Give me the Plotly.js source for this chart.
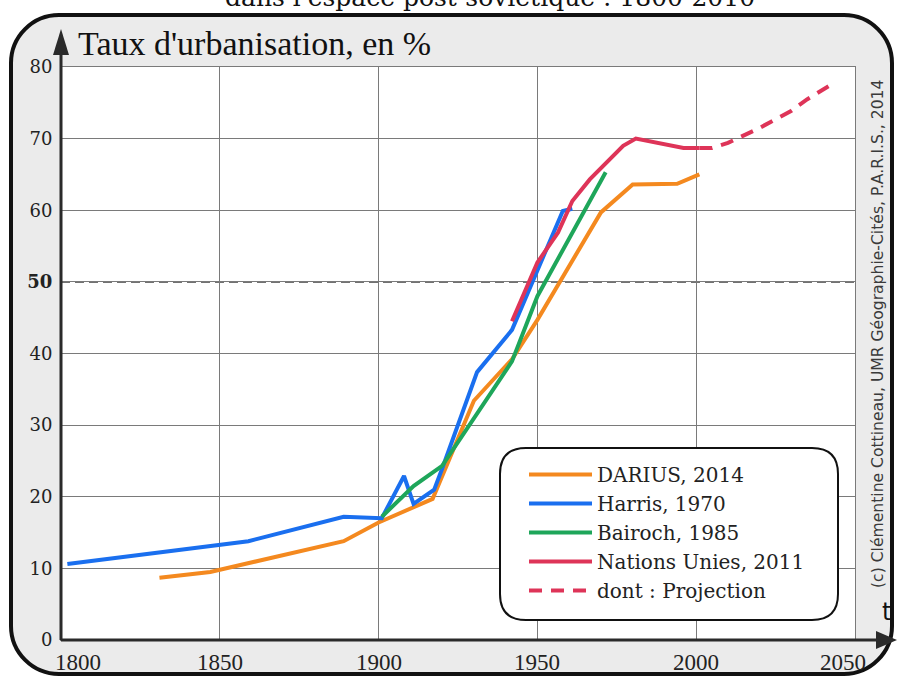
<!DOCTYPE html>
<html><head><meta charset="utf-8">
<script src="https://cdn.plot.ly/plotly-3.0.1.min.js"></script>
<style>
html,body{margin:0;padding:0;background:#fff;width:901px;height:677px;overflow:hidden;}
#frame{position:absolute;left:9px;top:13px;width:885px;height:663px;box-sizing:border-box;border:4px solid #111;border-radius:50px;background:#ebebeb;}
#chart{position:absolute;left:0;top:0;width:901px;height:677px;}
</style></head><body>
<div id="frame"></div><div id="chart"></div>
<script>
// ---- data ----
const dariusYears = [1831, 1847, 1889, 1900, 1917, 1930, 1942, 1950, 1970, 1980, 1994, 2001];
const dariusVals  = [8.7, 9.5, 13.8, 16.4, 19.7, 33.4, 39.2, 44.7, 59.7, 63.6, 63.7, 65.0];

const harrisYears = [1802, 1859, 1889, 1901, 1908, 1911, 1917.5, 1920, 1931, 1942, 1958, 1961];
const harrisVals  = [10.6, 13.8, 17.2, 17.0, 22.9, 19.0, 21.0, 23.9, 37.4, 43.3, 59.9, 60.2];

const bairochYears = [1901, 1911, 1920, 1942, 1950, 1971.5];
const bairochVals  = [17.2, 21.5, 24.3, 38.9, 48.0, 65.3];

const unYears = [1942, 1950, 1956.5, 1961, 1966.5, 1977, 1981, 1987.5, 1996, 2001];
const unVals  = [44.5, 52.7, 56.9, 61.3, 64.3, 69.0, 70.0, 69.4, 68.7, 68.7];

const projYears = [2001, 2005, 2010, 2020, 2030, 2035, 2042];
const projVals  = [68.7, 68.7, 69.4, 71.5, 73.9, 75.5, 77.4];

const seriesNames = ['DARIUS, 2014', 'Harris, 1970', 'Bairoch, 1985', 'Nations Unies, 2011', 'dont : Projection'];
const xTickVals = [1800, 1850, 1900, 1950, 2000, 2050];
const xTickText = ['1800', '1850', '1900', '1950', '2000', '2050'];
const yTickVals = [0, 10, 20, 30, 40, 50, 60, 70, 80];
const yTickText = ['0', '10', '20', '30', '40', '<b>50</b>', '60', '70', '80'];
const threshold = 50;

// ---- styling ----
const C = {orange:'#F4891F', blue:'#1A6FEF', green:'#1EA65A', red:'#DE3458'};
const W = 901, H = 677, ML = 61, MR = 46, MT = 67, MB = 37;
const PW = W - ML - MR, PH = H - MT - MB;
const px = x => (x - ML) / PW;            // pixel -> paper
const py = y => (H - MB - y) / PH;

function roundRect(x0, y0, x1, y1, r) { // pixel box -> paper path
  const rx = r / PW, ry = r / PH;
  const X0 = px(x0), X1 = px(x1), Yt = py(y0), Yb = py(y1);
  return `M${X0+rx},${Yt} L${X1-rx},${Yt} Q${X1},${Yt} ${X1},${Yt-ry} L${X1},${Yb+ry} Q${X1},${Yb} ${X1-rx},${Yb} L${X0+rx},${Yb} Q${X0},${Yb} ${X0},${Yb+ry} L${X0},${Yt-ry} Q${X0},${Yt} ${X0+rx},${Yt} Z`;
}

const mk = (x, y, name, color, dash) => ({
  x, y, name, type:'scatter', mode:'lines', hoverinfo:'skip',
  line:{color, width:4, dash: dash || 'solid'}
});

const traces = [
  mk(dariusYears, dariusVals, seriesNames[0], C.orange),
  mk(harrisYears, harrisVals, seriesNames[1], C.blue),
  mk(bairochYears, bairochVals, seriesNames[2], C.green),
  mk(unYears, unVals, seriesNames[3], C.red),
  mk(projYears, projVals, seriesNames[4], C.red, '13px,9px')
];

const axisCol = '#2a2a2a';
const shapes = [
  {type:'line', xref:'paper', yref:'y', x0:0, x1:1, y0:threshold, y1:threshold, layer:'between', line:{color:'#ffffff', width:2}},
  {type:'line', xref:'paper', yref:'y', x0:0, x1:1, y0:threshold, y1:threshold, layer:'between', line:{color:'#444', width:1.8, dash:'9px,5px'}},
  {type:'line', xref:'paper', yref:'paper', x0:0, x1:0, y0:0, y1:py(50), layer:'above', line:{color:axisCol, width:3}},
  {type:'path', xref:'paper', yref:'paper', layer:'above', fillcolor:axisCol, line:{width:0},
   path:`M${px(53)},${py(55)} L${px(69)},${py(55)} L${px(61)},${py(29)} Z`},
  {type:'line', xref:'paper', yref:'paper', x0:0, x1:px(880), y0:0, y1:0, layer:'above', line:{color:axisCol, width:3}},
  {type:'path', xref:'paper', yref:'paper', layer:'above', fillcolor:axisCol, line:{width:0},
   path:`M${px(876)},${py(631)} L${px(876)},${py(649)} L${px(897)},${py(640)} Z`},
  {type:'path', xref:'paper', yref:'paper', layer:'above', fillcolor:'#ffffff', line:{color:'#111', width:2},
   path: roundRect(500, 448, 838, 620, 26)}
];

// x tick labels as annotations so the end labels can be nudged inside like the reference
const xShift = v => v === xTickVals[0] ? 17 : (v === xTickVals[xTickVals.length-1] ? -12 : 0);
const xLabelAnn = xTickVals.map((v, i) => ({
  text: xTickText[i], xref:'x', yref:'paper', x:v, y:py(662), xshift:xShift(v), showarrow:false,
  xanchor:'center', yanchor:'middle', font:{family:'Liberation Serif', size:23, color:'#222'}
}));

const annotations = [
  {text:"dans l'espace post-soviétique : 1800-2010", xref:'paper', yref:'paper', x:px(490), y:py(-3), showarrow:false,
   xanchor:'center', yanchor:'middle', font:{family:'DejaVu Serif', size:25, color:'#111'}},
  {text:"Taux d'urbanisation, en %", xref:'paper', yref:'paper', x:px(76), y:py(44), showarrow:false,
   xanchor:'left', yanchor:'middle', font:{family:'Liberation Serif', size:34, color:'#111'}},
  {text:'(c) Clémentine Cottineau, UMR Géographie-Cités, P.A.R.I.S., 2014', xref:'paper', yref:'paper',
   x:px(878), y:py(333), textangle:-90, showarrow:false, xanchor:'center', yanchor:'middle',
   font:{family:'DejaVu Sans', size:15.6, color:'#3a3a3a'}},
  {text:'t', xref:'paper', yref:'paper', x:px(886), y:py(612), showarrow:false, xanchor:'center', yanchor:'middle',
   font:{family:'DejaVu Sans', size:24, color:'#111'}}
].concat(xLabelAnn);

const layout = {
  width:W, height:H, margin:{l:ML, r:MR, t:MT, b:MB, pad:0},
  paper_bgcolor:'rgba(0,0,0,0)', plot_bgcolor:'#ffffff',
  showlegend:true,
  legend:{x:px(524), xanchor:'left', y:py(455), yanchor:'top', bgcolor:'rgba(0,0,0,0)', borderwidth:0,
          font:{family:'DejaVu Serif', size:20, color:'#222'}, itemwidth:63, traceorder:'normal'},
  xaxis:{range:[1800, 2050], tickvals:xTickVals, showticklabels:false, ticks:'', showgrid:true, gridcolor:'#7a7a7a', gridwidth:1,
         zeroline:false, showline:true, mirror:true, linecolor:'#7a7a7a', linewidth:1, fixedrange:true},
  yaxis:{range:[0, 80], tickvals:yTickVals, ticktext:yTickText, ticks:'', showgrid:true, gridcolor:'#7a7a7a', gridwidth:1,
         zeroline:false, showline:true, mirror:true, linecolor:'#7a7a7a', linewidth:1, fixedrange:true,
         ticklabelstandoff:4, tickfont:{family:'DejaVu Serif', size:18, color:'#222'}},
  shapes, annotations
};

Plotly.newPlot('chart', traces, layout, {staticPlot:true, displayModeBar:false});
</script>
</body></html>
